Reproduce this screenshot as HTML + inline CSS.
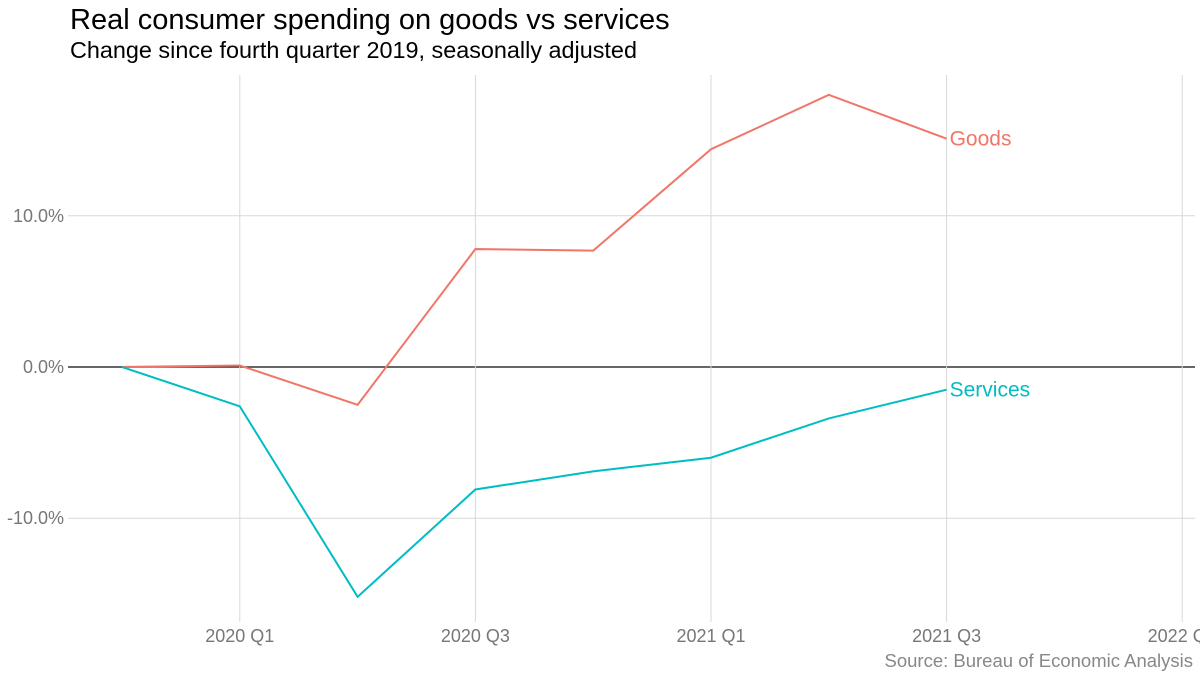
<!DOCTYPE html>
<html><head><meta charset="utf-8"><style>
body{margin:0;background:#fff;width:1200px;height:676px;overflow:hidden;font-family:"Liberation Sans",sans-serif}
</style></head><body>
<svg id="chart" width="1200" height="676" xmlns="http://www.w3.org/2000/svg" font-family="Liberation Sans, sans-serif">
<text x="70" y="29" font-size="29" fill="#000">Real consumer spending on goods vs services</text>
<text x="70" y="58" font-size="23.4" fill="#000">Change since fourth quarter 2019, seasonally adjusted</text>
<g id="grid"></g><g id="marks"></g>
<text x="1193" y="667" font-size="18.5" fill="#888" text-anchor="end">Source: Bureau of Economic Analysis</text>
</svg>
<script>
const quarters=[0,1,2,3,4,5,6,7];
const goods=[0,0.1,-2.5,7.8,7.7,14.4,18.0,15.1];
const services=[0,-2.6,-15.2,-8.1,-6.9,-6.0,-3.4,-1.5];
const yTicks=[-10,0,10];
const yTickLabels=["-10.0%","0.0%","10.0%"];
const xTicks=[1,3,5,7,9];
const xTickLabels=["2020 Q1","2020 Q3","2021 Q1","2021 Q3","2022 Q1"];
const seriesNames=["Goods","Services"];
const NS="http://www.w3.org/2000/svg";
const x=q=>122+q*117.8;
const y=v=>367-v*15.12;
function mk(t,a,p){const e=document.createElementNS(NS,t);for(const k in a)e.setAttribute(k,a[k]);p.appendChild(e);return e;}
const grid=document.getElementById('grid'),marks=document.getElementById('marks');
yTicks.forEach((v,i)=>{
 const l=mk('line',{x1:68,x2:1195,y1:y(v),y2:y(v),stroke:v===0?'#333':'#d9d9d9','stroke-width':v===0?1.4:1},grid);
 
 
 const t=mk('text',{x:64,y:y(v)+6,'font-size':18,fill:'#777','text-anchor':'end'},grid);
 t.textContent=yTickLabels[i];
 
 
});
xTicks.forEach((q,i)=>{
 const l=mk('line',{x1:x(q),x2:x(q),y1:75,y2:622,stroke:'#d9d9d9','stroke-width':1},grid);
 
 
 const t=mk('text',{x:x(q),y:642,'font-size':18,fill:'#777','text-anchor':'middle'},grid);
 t.textContent=xTickLabels[i];
 
 
});
const colors=['#f07668','#00bcc4'];
[goods,services].forEach((s,si)=>{
 const p=mk('polyline',{points:s.map((v,i)=>x(quarters[i])+','+y(v)).join(' '),fill:'none',stroke:colors[si],'stroke-width':2},marks);
 
 
 const last=s.length-1;
 const t=mk('text',{x:x(quarters[last])+3,y:y(s[last])+7,'font-size':21,fill:colors[si]},marks);
 t.textContent=seriesNames[si];
 
 
});
</script>
</body></html>
